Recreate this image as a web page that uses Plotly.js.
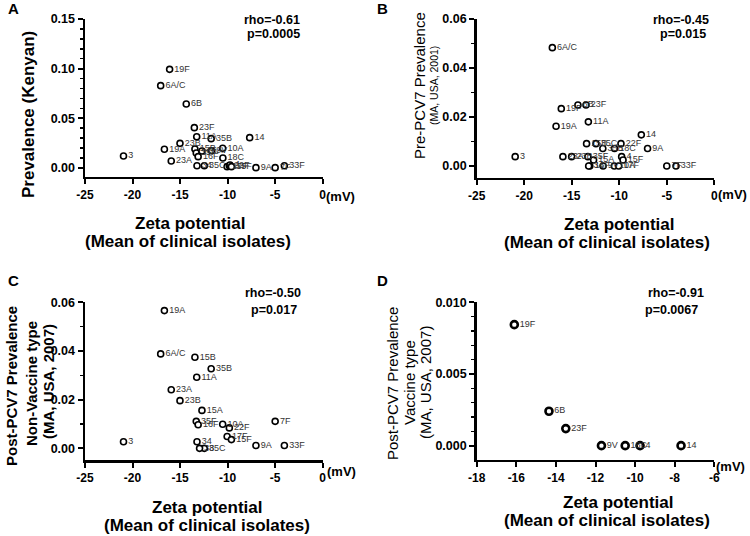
<!DOCTYPE html>
<html>
<head>
<meta charset="utf-8">
<script src="https://cdn.plot.ly/plotly-3.0.1.min.js"></script>
<style>html,body{margin:0;padding:0;background:#fff;}#chart{width:750px;height:536px;}</style>
</head>
<body>
<div id="chart"></div>
<script>
// ---- DATA ----
const serotypes = ["3","6A/C","19F","19A","23A","23B","6B","23F","15B","11A","35F","16F","34","15A","35C","38","9V","35B","10A","18C","17F","22F","4","15F","14","9A","7F","33F"];
const zeta      = [-20.95,-17.04,-16.1,-16.65,-15.93,-15.01,-14.35,-13.5,-13.44,-13.25,-13.3,-13.1,-13.22,-12.7,-12.45,-12.95,-11.7,-11.73,-10.52,-10.5,-10.05,-9.82,-9.75,-9.6,-7.68,-7.02,-5.0,-4.03];
const prevKenyan = [0.0121,0.0829,0.0993,0.0188,0.0070,0.0248,0.0644,0.0406,0.0191,0.0315,0.0150,0.0114,0.0023,0.0171,0.0023,null,0.0174,0.0295,0.0198,0.0101,0.0013,0.0023,0.0030,0.0013,0.0305,0.0003,0.0003,0.0023];
const prevPre2001 = [0.0038,0.0483,0.0234,0.0162,0.0038,0.0038,0.0249,0.0249,0.0091,0.0180,0.0038,0.0000,0.0000,0.0024,0.0091,null,0.0000,0.0071,0.0000,0.0071,0.0000,0.0091,0.0038,0.0024,0.0127,0.0071,0.0000,0.0000];
const prevPostNVT = [0.0027,0.0388,null,0.0566,0.0241,0.0196,null,null,0.0374,0.0292,0.0111,0.0097,0.0027,0.0156,0.0000,0.0000,null,0.0327,0.0099,null,0.0049,0.0084,null,0.0036,null,0.0012,0.0111,0.0012];
const prevPostVT = [null,null,0.00844,null,null,null,0.0024,0.00119,null,null,null,null,null,null,null,null,0.0,null,null,0.0,null,null,0.0,null,0.0,null,null,null];

const xTicksWide = [-25,-20,-15,-10,-5,0];
const xTickTextWide = ["-25","-20","-15","-10","-5","0"];
const xTicksD = [-18,-16,-14,-12,-10,-8,-6];
const xTickTextD = ["-18","-16","-14","-12","-10","-8","-6"];
const yTicksA = [0,0.05,0.10,0.15];
const yTickTextA = ["0.00","0.05","0.10","0.15"];
const yTicksBC = [0,0.02,0.04,0.06];
const yTickTextBC = ["0.00","0.02","0.04","0.06"];
const yTicksD = [0,0.005,0.010];
const yTickTextD = ["0.000","0.005","0.010"];

const stats = [["rho=-0.61","p=0.0005"],["rho=-0.45","p=0.015"],["rho=-0.50","p=0.017"],["rho=-0.91","p=0.0067"]];

// ---- LAYOUT HELPERS ----
const W = 750, H = 536;
const fx = p => p / W;
const fy = p => 1 - p / H;
const FONT = "Arial, 'Liberation Sans', sans-serif";

function pick(vals){
  const x=[],y=[],t=[];
  vals.forEach((v,i)=>{ if(v!==null){ x.push(zeta[i]); y.push(v); t.push(serotypes[i]); }});
  return {x,y,t};
}
function trace(vals, xa, ya, size, lw){
  const d = pick(vals);
  return {x:d.x, y:d.y, text:d.t, xaxis:xa, yaxis:ya, type:'scatter', mode:'markers+text',
    textposition:'middle right', textfont:{family:FONT, size:9, color:'#333'},
    marker:{symbol:'circle', size:size, color:'white', line:{color:'black', width:lw}},
    cliponaxis:false, hoverinfo:'skip', showlegend:false};
}
function xaxis(dom, anchor, range, tv, tt){
  return {domain:[fx(dom[0]),fx(dom[1])], anchor:anchor, range:range, tickmode:'array', tickvals:tv, ticktext:tt,
    showline:true, linewidth:2.5, linecolor:'black', ticks:'outside', ticklen:5, tickwidth:2, tickcolor:'black',
    showgrid:false, zeroline:false, tickfont:{family:FONT, size:12, color:'black', weight:'bold'}, fixedrange:true};
}
function yaxis(dom, anchor, range, tv, tt, minorDt){
  return {domain:[fy(dom[1]),fy(dom[0])], anchor:anchor, range:range, tickmode:'array', tickvals:tv, ticktext:tt,
    showline:true, linewidth:2.5, linecolor:'black', ticks:'outside', ticklen:5, tickwidth:2, tickcolor:'black',
    minor:{dtick:minorDt, tick0:0, ticks:'outside', ticklen:3, tickwidth:1.5, tickcolor:'black', showgrid:false},
    showgrid:false, zeroline:false, tickfont:{family:FONT, size:12.5, color:'black', weight:'bold'}, fixedrange:true};
}
function ann(text, px, py, size, bold, angle, xanchor){
  return {text: bold ? '<b>'+text+'</b>' : text, x:fx(px), y:fy(py), xref:'paper', yref:'paper',
    xanchor: xanchor || 'center', yanchor:'middle', showarrow:false, textangle: angle || 0,
    font:{family:FONT, size:size, color:'black'}};
}

const data = [
  trace(prevKenyan,'x','y',6,1.6),
  trace(prevPre2001,'x2','y2',6,1.6),
  trace(prevPostNVT,'x3','y3',6,1.6),
  trace(prevPostVT,'x4','y4',7,2.6)
];

const layout = {
  width:W, height:H, margin:{l:0,r:0,t:0,b:0}, paper_bgcolor:'white', plot_bgcolor:'white', showlegend:false,
  xaxis:  xaxis([85,322.7],'y',[-25,0],xTicksWide,xTickTextWide),
  yaxis:  yaxis([19,176.7],'x',[-0.0088,0.15],yTicksA,yTickTextA,0.01),
  xaxis2: xaxis([476.7,714.3],'y2',[-25,0],xTicksWide,xTickTextWide),
  yaxis2: yaxis([19,177.7],'x2',[-0.0048,0.06],yTicksBC,yTickTextBC,0.01),
  xaxis3: xaxis([85,322.7],'y3',[-25,0],xTicksWide,xTickTextWide),
  yaxis3: yaxis([302.3,460.3],'x3',[-0.0049,0.06],yTicksBC,yTickTextBC,0.01),
  xaxis4: xaxis([476.7,714.3],'y4',[-18,-6],xTicksD,xTickTextD),
  yaxis4: yaxis([302.3,459.7],'x4',[-0.00098,0.010],yTicksD,yTickTextD,0.001),
  annotations: [
    ann('A',13,9,15,true), ann('B',382,9,15,true), ann('C',13,280,15,true), ann('D',382,280,15,true),
    ann(stats[0][0],272,20,12.5,true), ann(stats[0][1],273,34,12.5,true),
    ann(stats[1][0],681,20,12.5,true), ann(stats[1][1],683,34,12.5,true),
    ann(stats[2][0],273,293,12.5,true), ann(stats[2][1],274,310,12.5,true),
    ann(stats[3][0],676,293,12.5,true), ann(stats[3][1],671,310,12.5,true),
    ann('(mV)',340,196,13,true), ann('(mV)',732,194,13,true), ann('(mV)',341,471,13,true), ann('(mV)',730,466,13,true),
    ann('Zeta potential',190,223,17,true), ann('(Mean of clinical isolates)',188,241,17,true),
    ann('Zeta potential',619,224,17,true), ann('(Mean of clinical isolates)',607,242,17,true),
    ann('Zeta potential',207,507,17,true), ann('(Mean of clinical isolates)',207,525,17,true),
    ann('Zeta potential',618,502,17,true), ann('(Mean of clinical isolates)',607,520,17,true),
    ann('Prevalence (Kenyan)',28,115,17,true,-90),
    ann('Pre-PCV7 Prevalence',420,86,15,false,-90), ann('(MA, USA, 2001)',434,86,10.5,false,-90),
    ann('Post-PCV7 Prevalence',11,386,15,true,-90), ann('Non-Vaccine type',31,384,15,true,-90), ann('(MA, USA, 2007)',48,382,15,true,-90),
    ann('Post-PCV7 Prevalence',392,383,15,false,-90), ann('Vaccine type',409,383,15,false,-90), ann('(MA, USA, 2007)',425,383,15,false,-90)
  ]
};

Plotly.newPlot('chart', data, layout, {staticPlot:true, displayModeBar:false});
</script>
</body>
</html>
